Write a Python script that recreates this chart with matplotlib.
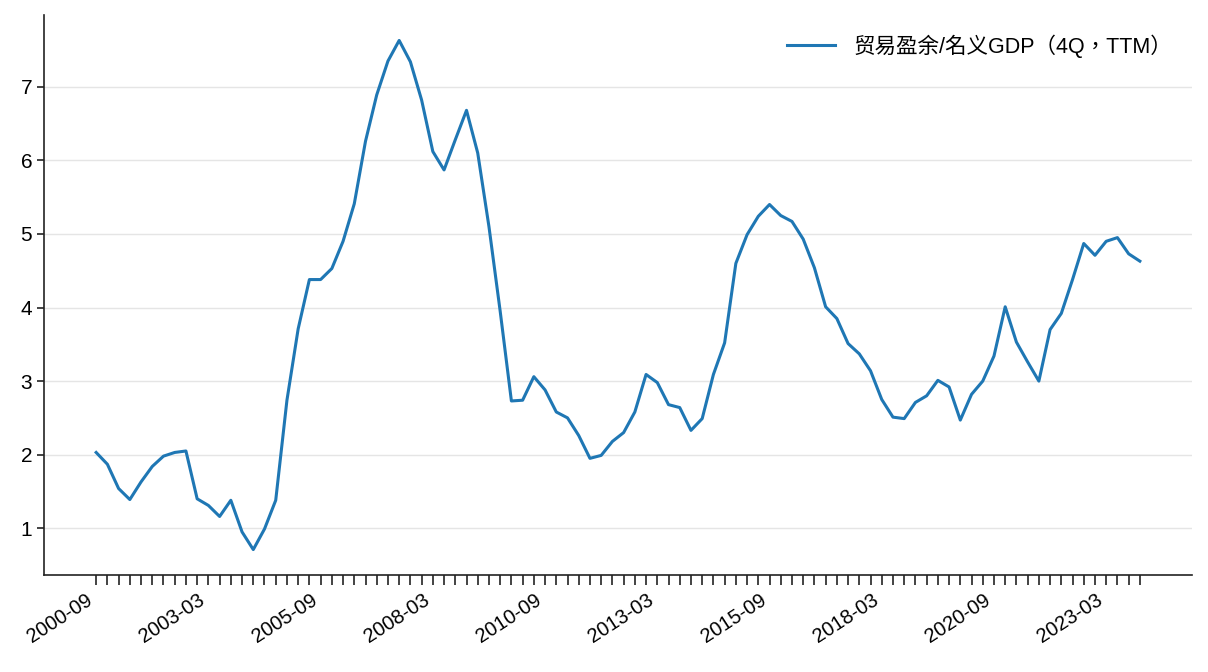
import matplotlib
matplotlib.use("Agg")
import matplotlib.pyplot as plt
from matplotlib.font_manager import FontProperties
import pandas as pd

plt.rcParams['font.family'] = ['Liberation Sans', 'Noto Sans CJK SC', 'DejaVu Sans']

dates = [pd.Period(p, freq='Q').end_time.strftime('%Y-%m')
         for p in pd.period_range('2000Q3', '2023Q4', freq='Q')]

values = [
    2.03, 1.87, 1.54, 1.39, 1.63, 1.84, 1.98, 2.03, 2.05, 1.40,
    1.31, 1.16, 1.38, 0.95, 0.71, 0.99, 1.38, 2.74, 3.71, 4.38,
    4.38, 4.53, 4.90, 5.41, 6.26, 6.89, 7.35, 7.63, 7.34, 6.82,
    6.12, 5.87, 6.28, 6.68, 6.10, 5.10, 3.95, 2.73, 2.74, 3.06,
    2.88, 2.58, 2.50, 2.26, 1.95, 1.99, 2.18, 2.30, 2.58, 3.09,
    2.98, 2.68, 2.64, 2.33, 2.49, 3.09, 3.52, 4.60, 4.99, 5.24,
    5.40, 5.25, 5.17, 4.93, 4.54, 4.01, 3.85, 3.51, 3.37, 3.14,
    2.75, 2.51, 2.49, 2.71, 2.80, 3.01, 2.92, 2.47, 2.82, 3.00,
    3.34, 4.01, 3.53, 3.26, 3.00, 3.70, 3.92, 4.38, 4.87, 4.71,
    4.90, 4.95, 4.73, 4.63,
]
series_label = '贸易盈余/名义GDP（4Q，TTM）'
label_every = 10

fig = plt.figure(figsize=(12.08, 6.72), dpi=100)
ax = fig.add_axes([0.0364, 0.1443, 0.9504, 0.8334])

x = list(range(len(values)))
ax.plot(x, values, color='#1f77b4', lw=2.2, label=series_label, zorder=3)

ax.set_xticks(x)
ax.set_xticklabels([d if i % label_every == 0 else '' for i, d in enumerate(dates)],
                   rotation=33, ha='right', fontsize=14.5)
ax.tick_params(axis='x', length=7, width=1.2, color='#222222', pad=4)
ax.tick_params(axis='y', length=5, width=1.2, color='#222222', labelsize=15)
ax.set_yticks([1, 2, 3, 4, 5, 6, 7])

ax.grid(axis='y', color='#e5e5e5', lw=1)
ax.set_axisbelow(True)
for s in ['top', 'right']:
    ax.spines[s].set_visible(False)
for s in ['left', 'bottom']:
    ax.spines[s].set_linewidth(1.2)
    ax.spines[s].set_color('#222222')

leg_font = FontProperties(family=['Liberation Sans', 'Noto Sans CJK TC', 'DejaVu Sans'], size=15.5)
ax.legend(loc='upper right', frameon=False, prop=leg_font, handlelength=2.2,
          handletextpad=0.9)

fig.savefig('out.png', dpi=100)
